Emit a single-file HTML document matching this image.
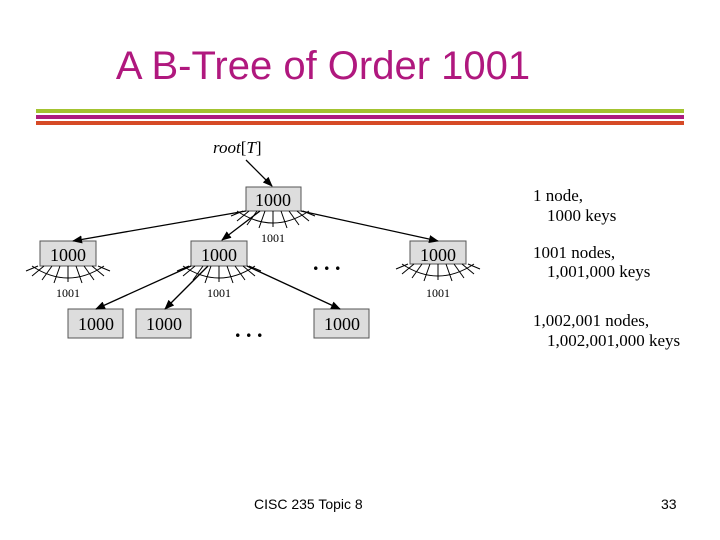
<!DOCTYPE html>
<html><head><style>
body{margin:0;width:720px;height:540px;background:#fff;overflow:hidden;position:relative;font-family:"Liberation Sans",sans-serif}
.t{position:absolute;left:0;width:720px;top:44px;text-align:center;font-size:40px;color:#b0187e;padding-left:8px;box-sizing:border-box;text-indent:-82px}
.bar{position:absolute;left:36px;width:648px;height:4px}
.f{position:absolute;font-size:14px;color:#000;top:496px}
</style></head><body>
<div class="t">A B-Tree of Order 1001</div>
<div class="bar" style="top:109px;background:#a3c330"></div>
<div class="bar" style="top:115px;background:#ac1c7e"></div>
<div class="bar" style="top:121px;background:#d64a26"></div>
<svg width="720" height="540" style="position:absolute;left:0;top:0" font-family="Liberation Serif,serif">
<defs>
<marker id="a" markerWidth="10" markerHeight="8" refX="9" refY="4" orient="auto" markerUnits="userSpaceOnUse"><path d="M0,0 L10,4 L0,8 z" fill="#000"/></marker>
<g id="fan" stroke="#000" stroke-width="1" fill="none">
<path d="M-36,0 Q0,24 36,0"/>
<line x1="0" y1="0" x2="0" y2="16"/>
<line x1="-8" y1="0" x2="-14" y2="17"/>
<line x1="-16" y1="0" x2="-26" y2="14"/>
<line x1="-24" y1="0" x2="-36" y2="10"/>
<line x1="-30" y1="0" x2="-42" y2="5"/>
<line x1="8" y1="0" x2="14" y2="17"/>
<line x1="16" y1="0" x2="26" y2="14"/>
<line x1="24" y1="0" x2="36" y2="10"/>
<line x1="30" y1="0" x2="42" y2="5"/>
</g>
</defs>
<g fill="#ddd" stroke="#555" stroke-width="1">
<rect x="246" y="187" width="55" height="24"/>
<rect x="40" y="241" width="56" height="25"/>
<rect x="191" y="241" width="56" height="25"/>
<rect x="410" y="241" width="56" height="23"/>
<rect x="68" y="309" width="55" height="29"/>
<rect x="136" y="309" width="55" height="29"/>
<rect x="314" y="309" width="55" height="29"/>
</g>
<use href="#fan" x="273" y="211"/>
<use href="#fan" x="68" y="266"/>
<use href="#fan" x="219" y="266"/>
<use href="#fan" x="438" y="264"/>
<g stroke="#000" stroke-width="1.3" fill="none" marker-end="url(#a)">
<line x1="246" y1="160" x2="272" y2="186"/>
<line x1="246" y1="211" x2="73" y2="241"/>
<line x1="260" y1="211" x2="222" y2="240"/>
<line x1="301" y1="211" x2="438" y2="241"/>
<line x1="191" y1="266" x2="96" y2="309"/>
<line x1="208" y1="266" x2="165" y2="309"/>
<line x1="247" y1="266" x2="340" y2="309"/>
</g>
<g font-size="18" text-anchor="middle" fill="#000">
<text x="273" y="206">1000</text>
<text x="68" y="261">1000</text>
<text x="219" y="261">1000</text>
<text x="438" y="261">1000</text>
<text x="96" y="330">1000</text>
<text x="164" y="330">1000</text>
<text x="342" y="330">1000</text>
</g>
<g font-size="12" text-anchor="middle">
<text x="273" y="242">1001</text>
<text x="68" y="297">1001</text>
<text x="219" y="297">1001</text>
<text x="438" y="297">1001</text>
</g>
<text x="213" y="153" font-size="17" font-style="italic">root<tspan font-style="normal">[</tspan>T<tspan font-style="normal">]</tspan></text>
<g font-size="22" font-weight="bold"><text x="313" y="270">. . .</text><text x="235" y="337">. . .</text></g>
<g font-size="17">
<text x="533" y="201">1 node,</text>
<text x="547" y="221">1000 keys</text>
<text x="533" y="258">1001 nodes,</text>
<text x="547" y="277">1,001,000 keys</text>
<text x="533" y="326">1,002,001 nodes,</text>
<text x="547" y="346">1,002,001,000 keys</text>
</g>
</svg>
<div class="f" style="left:254px">CISC 235 Topic 8</div>
<div class="f" style="left:661px">33</div>
</body></html>
